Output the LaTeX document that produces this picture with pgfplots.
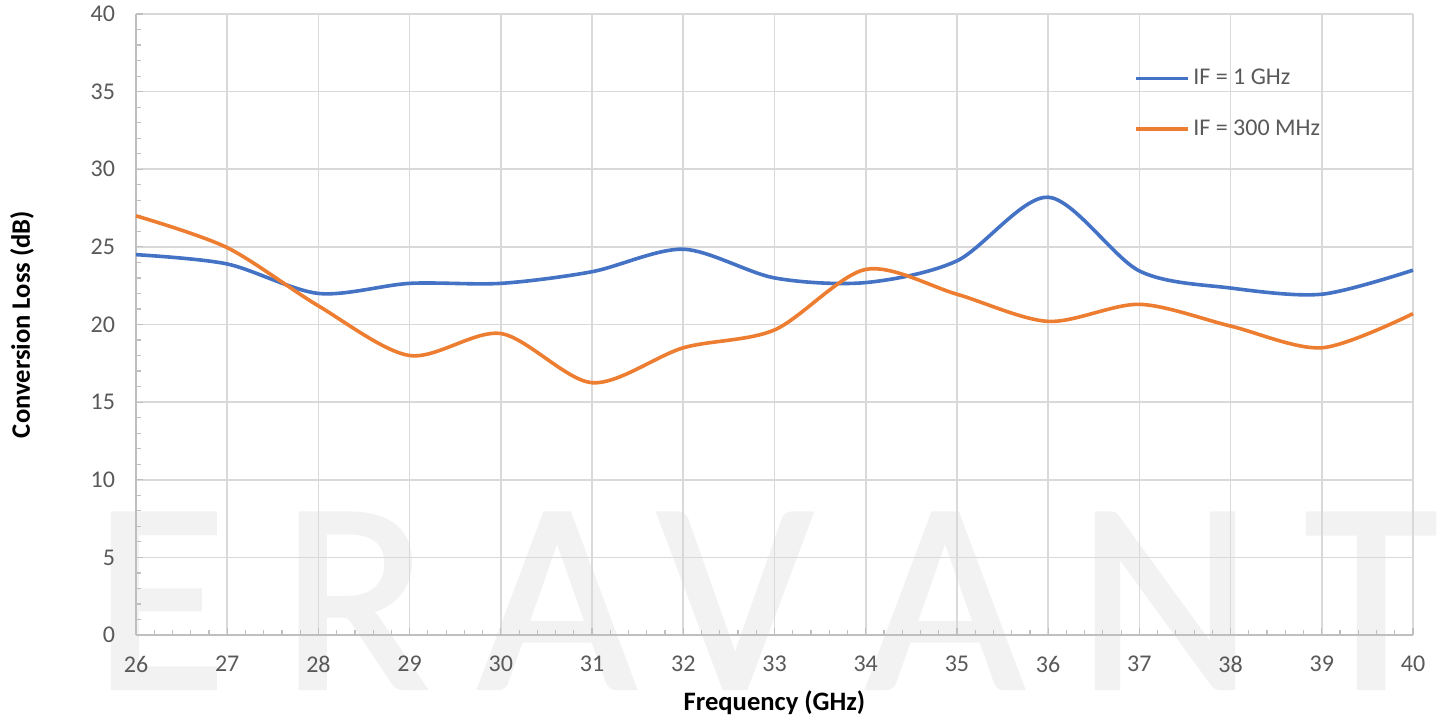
\documentclass[border=0pt]{standalone}
\usepackage{pgfplots}
\pgfplotsset{compat=1.18}
\usepackage{fontspec}
\setmainfont{Carlito}
\newfontfamily\wmfont{Carlito}[FakeBold=1.5]
\definecolor{cblue}{HTML}{4472C4}
\definecolor{corange}{HTML}{ED7D31}
\definecolor{ticktext}{HTML}{595959}
\definecolor{axisgray}{HTML}{BFBFBF}
\definecolor{gridgray}{HTML}{D9D9D9}
\definecolor{wm}{HTML}{F2F2F2}
\begin{document}
\begin{tikzpicture}
% watermark
\begin{scope}[every node/.style={text=wm,anchor=base,inner sep=0pt,font=\wmfont\fontsize{136}{136}\selectfont}]
\node at (12pt,-26.5pt) {E};
\node at (109.5pt,-26.5pt) {R};
\node at (210.5pt,-26.5pt) {A};
\node at (299.5pt,-26.5pt) {V};
\node at (404.5pt,-26.5pt) {A};
\node at (514.5pt,-26.5pt) {N};
\node at (617.5pt,-26.5pt) {T};
\end{scope}
\begin{axis}[
  at={(0pt,0pt)}, anchor=south west,
  scale only axis, width=638.5pt, height=310.5pt,
  xmin=26, xmax=40, ymin=0, ymax=40,
  xtick={26,...,40}, ytick={0,5,...,40},
  minor x tick num=4, minor y tick num=4,
  axis x line*=bottom, axis y line*=left,
  axis line style={axisgray, line width=0.8pt},
  tick align=inside,
  major tick length=3.5pt, minor tick length=2.5pt,
  tick style={axisgray, line width=0.6pt},
  minor tick style={axisgray, line width=0.6pt},
  grid=major,
  major grid style={gridgray, line width=0.8pt},
  ticklabel style={font=\fontsize{12}{14}\selectfont, text=ticktext},
  /pgf/number format/assume math mode=true,
  xticklabel style={yshift=-7pt},
  yticklabel style={xshift=-7pt},
  xlabel={\textbf{Frequency (GHz)}},
  ylabel={\textbf{Conversion Loss (dB)}},
  label style={font=\fontsize{13.3}{15}\selectfont},
  xlabel style={at={(axis description cs:0.5,0)}, anchor=center, yshift=-34pt},
  ylabel style={at={(axis description cs:0,0.5)}, anchor=center, yshift=57pt},
  legend style={at={(0.781,0.918)}, anchor=north west, draw=none, fill=none,
    font=\fontsize{12}{14}\selectfont, text=ticktext, row sep=12pt,
    inner sep=0pt, legend cell align=left},
  legend image code/.code={\draw[#1] (0pt,0pt) -- (26pt,0pt);},
  every axis plot/.append style={line width=1.8pt, smooth, tension=0.5},
  clip=false,
]
\addplot[cblue] coordinates {
(26,24.5) (27,23.9) (28,22.0) (29,22.65) (30,22.65) (31,23.4) (32,24.85)
(33,23.0) (34,22.7) (35,24.1) (36,28.2) (37,23.45) (38,22.35) (39,21.95) (40,23.5)
};
\addlegendentry{IF = 1 GHz}
\addplot[corange] coordinates {
(26,27.0) (27,24.95) (28,21.2) (29,18.0) (30,19.42) (31,16.25) (32,18.5)
(33,19.65) (34,23.55) (35,21.95) (36,20.2) (37,21.3) (38,19.9) (39,18.5) (40,20.7)
};
\addlegendentry{IF = 300 MHz}
\end{axis}
\pgfresetboundingbox
\useasboundingbox (-68pt,-42pt) rectangle (654pt,317.5pt);
\end{tikzpicture}
\end{document}
